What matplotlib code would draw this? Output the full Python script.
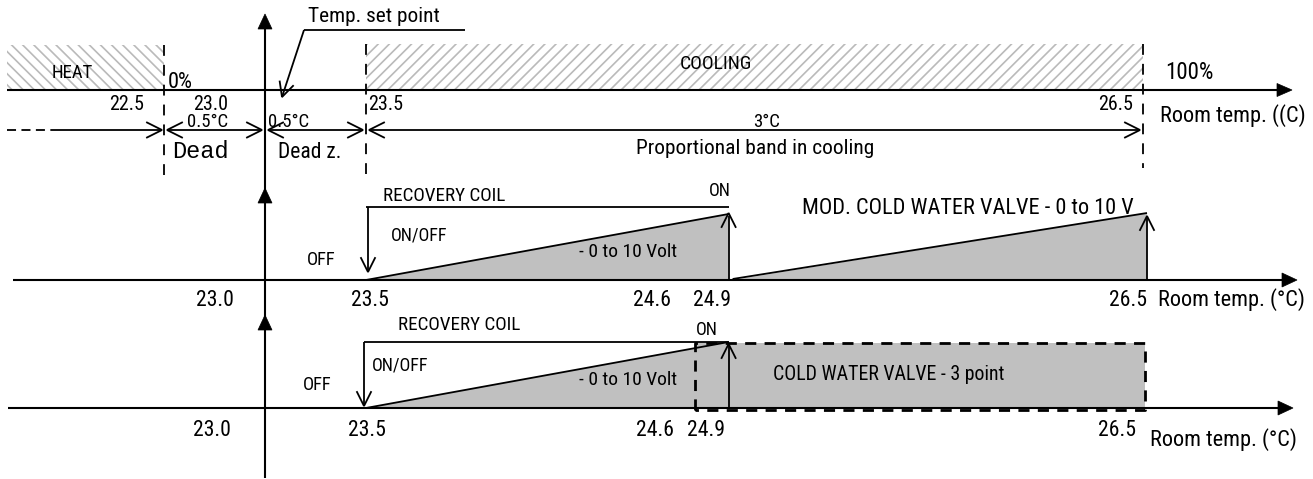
import numpy as np
import matplotlib
matplotlib.use("Agg")
import matplotlib.pyplot as plt
from matplotlib.patches import Polygon, Rectangle

# ---------------- data ----------------
heat_limit = 22.5          # end of heating band
set_point = 23.0           # temperature set point
cool_start = 23.5          # start of cooling band
cool_end = 26.5            # end of proportional band
recovery_end = 24.9        # recovery coil fully on
recovery_mark = 24.6       # intermediate mark
valve3_start = 24.77       # 3-point valve box start (estimated)
volt_range = [0, 10]       # modulating signal range (V)
top_ticks = ["22.5", "23.0", "23.5", "26.5"]
row_ticks = ["23.0", "23.5", "24.6", "24.9", "26.5"]
band_labels = ["0.5°C", "0.5°C", "3°C"]

# diagram is not to scale: piecewise temperature -> pixel map (layout)
T_PTS = [22.5, 23.0, 23.5, 26.5]
X_PTS = [164, 265, 366, 1143]
def tx(t):
    return float(np.interp(t, T_PTS, X_PTS))

ROW_H = 66.0
def vy(base, v):
    return base - (v - volt_range[0]) / (volt_range[1] - volt_range[0]) * ROW_H

# ---------------- figure ----------------
fig = plt.figure(figsize=(13.13, 4.79), dpi=100)
ax = fig.add_axes([0, 0, 1, 1])
ax.set_xlim(0, 1313)
ax.set_ylim(479, 0)
ax.axis("off")

FONT = ["Roboto Condensed", "Liberation Sans Narrow", "Roboto", "DejaVu Sans"]
MONO = ["Liberation Mono", "DejaVu Sans Mono"]
K = "black"
GRAY = "#c0c0c0"

def T(x, y, s, size=13, ha="left", va="center", family=FONT):
    ax.text(x, y, s, fontsize=size, ha=ha, va=va, family=family, color=K, zorder=5)

def line(xs, ys, lw=1.1, ls="-", dashes=None, z=3):
    l, = ax.plot(xs, ys, color=K, lw=lw, ls=ls, solid_capstyle="butt", zorder=z)
    if dashes:
        l.set_dashes(dashes)
    return l

def head(tip, direction, length=14, hw=7, filled=False, lw=1.1):
    tx_, ty_ = tip
    dx, dy = direction
    n = np.hypot(dx, dy); dx, dy = dx / n, dy / n
    bx, by = tx_ - dx * length, ty_ - dy * length
    px, py = -dy, dx
    p1 = (bx + px * hw, by + py * hw)
    p2 = (bx - px * hw, by - py * hw)
    if filled:
        ax.add_patch(Polygon([tip, p1, p2], closed=True, fc=K, ec=K, lw=0.5, zorder=4))
    else:
        ax.plot([p1[0], tx_, p2[0]], [p1[1], ty_, p2[1]], color=K, lw=lw, zorder=4,
                solid_joinstyle="miter")

# ---------------- hatched bands ----------------
plt.rcParams["hatch.linewidth"] = 1.2
HATCH_C = "#bababa"
ax.add_patch(Rectangle((7, 45), tx(heat_limit) - 7, 45, fc="white", ec=HATCH_C, lw=0,
                       hatch="\\\\\\", zorder=1))
ax.add_patch(Rectangle((tx(cool_start), 44), tx(cool_end) - tx(cool_start), 46,
                       fc="white", ec=HATCH_C, lw=0, hatch="///", zorder=1))
T(72, 73, "HEAT", 13.5, ha="center")
T(716, 64, "COOLING", 14, ha="center")

# ---------------- vertical axis ----------------
line([265, 265], [478, 20], lw=1.5)
for yt in (14, 188, 315):
    head((265, yt), (0, -1), length=15, hw=7, filled=True)

# ---------------- top row ----------------
Y1 = 90
line([7, 1280], [Y1, Y1], lw=1.5)
head((1292, Y1), (1, 0), length=15, hw=6.5, filled=True)
for t, y0, y1 in ((heat_limit, 45, 178), (cool_start, 44, 176), (cool_end, 44, 168)):
    line([tx(t), tx(t)], [y0, y1], lw=1.3, dashes=(6, 5))
T(168, 82, "0%", 16)
T(1165, 72, "100%", 16.5)
T(127, 104, top_ticks[0], 14.5, ha="center")
T(211, 104, top_ticks[1], 14.5, ha="center")
T(368, 104, top_ticks[2], 14.5)
T(1116, 104, top_ticks[3], 14.5, ha="center")
T(1160, 116, "Room temp. ((C)", 16)

# set point leader
T(308, 16, "Temp. set point", 15.4)
line([304, 465], [30, 30], lw=1.3)
line([304, 282], [30, 97], lw=1.3)
head((282, 97), (282 - 304, 97 - 30), length=14, hw=7, lw=1.3)

# dimension arrows
YD = 130
line([7, 58], [YD, YD], lw=1.3, dashes=(5, 3))
line([58, tx(heat_limit) - 2], [YD, YD], lw=1.3)
head((tx(heat_limit) - 2, YD), (1, 0), 15, 7.5, lw=1.3)
segs = [(tx(heat_limit) + 3, tx(set_point) - 3), (tx(set_point) + 3, tx(cool_start) - 3),
        (tx(cool_start) + 3, tx(cool_end) - 3)]
for a, b in segs:
    line([a, b], [YD, YD], lw=1.3)
    head((a, YD), (-1, 0), 15, 7.5, lw=1.3)
    head((b, YD), (1, 0), 15, 7.5, lw=1.3)
T(208, 122, band_labels[0], 13.5, ha="center")
T(268, 122, band_labels[1], 13.5)
T(767, 122, band_labels[2], 13.5, ha="center")
T(172, 151, "Dead", 17, family=MONO)
T(278, 152, "Dead z.", 15.5)
T(755, 149, "Proportional band in cooling", 15.4, ha="center")

# ---------------- row 2: modulating valve ----------------
Y2 = 280
line([13, 1283], [Y2, Y2], lw=1.5)
head((1297, Y2), (1, 0), length=15, hw=7, filled=True)
x0, x1 = tx(cool_start), tx(recovery_end)
ytop = vy(Y2, volt_range[1])
ax.add_patch(Polygon([(x0, Y2), (x1, ytop), (x1, Y2)], fc=GRAY, ec="none", zorder=2))
line([x0, x1], [Y2, ytop], lw=1.3)
line([x0, x1], [207, 207], lw=1.3)
line([x0 + 2, x0 + 2], [207, 271], lw=1.3)
head((x0 + 2, 272), (0, 1), 14, 7, lw=1.3)
line([x1, x1], [Y2, ytop + 2], lw=1.3)
head((x1, ytop - 1), (0, -1), 14, 7, lw=1.3)
x2, x3 = x1 + 4, tx(cool_end) + 4
ytop2 = vy(Y2, volt_range[1]) - 1
ax.add_patch(Polygon([(x2, Y2), (x3, ytop2), (x3, Y2)], fc=GRAY, ec="none", zorder=2))
line([x2, x3], [Y2 - 1, ytop2], lw=1.3)
line([x3, x3], [Y2, ytop2 + 4], lw=1.3)
head((x3, ytop2 + 3), (0, -1), 14, 7, lw=1.3)
T(383, 196, "RECOVERY COIL", 13.8)
T(720, 191, "ON", 13, ha="center")
T(391, 235, "ON/OFF", 13)
T(307, 260, "OFF", 13.3)
T(628, 252, "- 0 to 10 Volt", 14, ha="center")
T(802, 209, "MOD. COLD WATER VALVE - 0 to 10 V", 16)
T(215, 300, row_ticks[0], 15.7, ha="center")
T(370, 300, row_ticks[1], 15.7, ha="center")
T(652, 300, row_ticks[2], 15.7, ha="center")
T(x1 + 2, 300, row_ticks[3], 15.7, ha="right")
T(x3, 300, row_ticks[4], 15.7, ha="right")
T(1158, 300, "Room temp. (°C)", 16)

# ---------------- row 3: 3-point valve ----------------
Y3 = 408
ytop3 = vy(Y3, volt_range[1])
xb0, xb1 = tx(valve3_start), tx(cool_end) + 2
ax.add_patch(Rectangle((xb0, ytop3 + 1), xb1 - xb0, Y3 - ytop3 - 1, fc=GRAY, ec="none", zorder=2))
ax.add_patch(Polygon([(x0, Y3), (x1, ytop3), (x1, Y3)], fc=GRAY, ec="none", zorder=2))
line([x0, x1], [Y3, ytop3], lw=1.3)
line([x0 - 2, x1], [ytop3, ytop3], lw=1.3)
bx = [xb0, xb0, xb1, xb1, xb0]
by = [Y3 + 1.5, ytop3 + 1, ytop3 + 1, Y3 + 1.5, Y3 + 1.5]
line(bx, by, lw=2.0, dashes=(4, 3), z=3)
line([8, 1280], [Y3, Y3], lw=1.5)
head((1293, Y3), (1, 0), length=15, hw=7, filled=True)
line([x0 - 2, x0 - 2], [ytop3, Y3 - 3], lw=1.3)
head((x0 - 2, Y3 - 2), (0, 1), 14, 7, lw=1.3)
line([x1, x1], [Y3, ytop3 + 4], lw=1.3)
head((x1, ytop3 + 2), (0, -1), 14, 7, lw=1.3)
T(398, 325, "RECOVERY COIL", 13.8)
T(707, 330, "ON", 13, ha="center")
T(372, 365, "ON/OFF", 13)
T(303, 385, "OFF", 13.3)
T(628, 380, "- 0 to 10 Volt", 14, ha="center")
T(773, 375, "COLD WATER VALVE - 3 point", 14.3)
T(212, 430, row_ticks[0], 15.7, ha="center")
T(367, 430, row_ticks[1], 15.7, ha="center")
T(655, 430, row_ticks[2], 15.7, ha="center")
T(706, 430, row_ticks[3], 15.7, ha="center")
T(1117, 430, row_ticks[4], 15.7, ha="center")
T(1150, 440, "Room temp. (°C)", 16)

fig.savefig("out.png", dpi=100)
